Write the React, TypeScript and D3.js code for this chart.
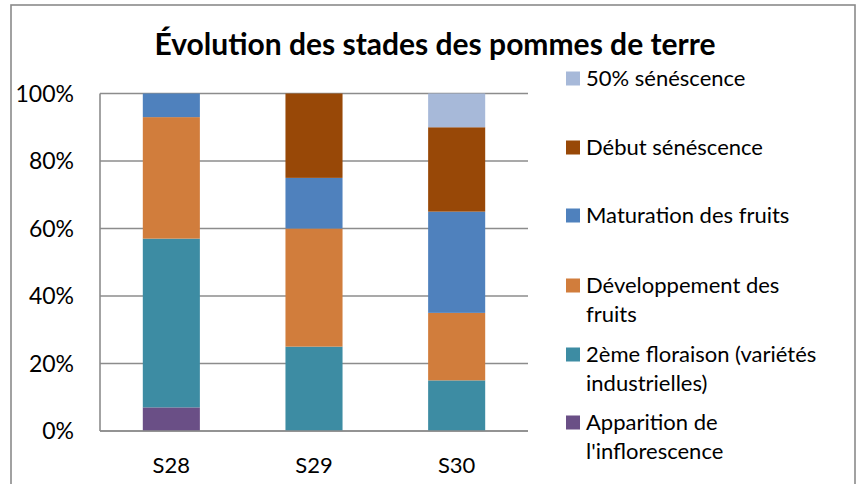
import React, { useRef, useEffect } from 'react';
import * as d3 from 'd3';

// stages of the potato crop, % of plots per week
const categories = ['S28', 'S29', 'S30'];
const apparition = [7, 0, 0];
const floraison = [50, 25, 15];
const developpement = [36, 35, 20];
const maturation = [7, 15, 30];
const debutSenescence = [0, 25, 25];
const senescence50 = [0, 0, 10];

const seriesNames = [
    ["Apparition de", "l'inflorescence"],
    ['2ème floraison (variétés', 'industrielles)'],
    ['Développement des', 'fruits'],
    ['Maturation des fruits'],
    ['Début sénéscence'],
    ['50% sénéscence'],
];
const seriesColors = ['#6a4f86', '#3d8ca3', '#d17d3c', '#4f81bd', '#984807', '#a7b9d9'];
const yTicks = [0, 20, 40, 60, 80, 100];

const W = 859, H = 484;
const FONT = 'Lato, Calibri, sans-serif';

const App = () => {
    const ref = useRef(null);

    var margin = { left: 100, top: 93.5, right: 528, bottom: 431 };

    useEffect(() => {
        var svg = d3.select(ref.current);
        svg.selectAll('*').remove();

        var series = [apparition, floraison, developpement, maturation, debutSenescence, senescence50];
        var table = categories.map((c, i) => {
            var row: any = { cat: c };
            series.forEach((s, k) => { row['s' + k] = s[i]; });
            return row;
        });
        var stack = d3.stack().keys(series.map((s, k) => 's' + k));
        var stacked = stack(table);

        var x = d3.scaleBand()
            .domain(categories)
            .range([margin.left, margin.right])
            .paddingInner(0.6)
            .paddingOuter(0.3);
        var y = d3.scaleLinear()
            .domain([0, 100])
            .range([margin.bottom, margin.top]);

        // chart frame
        svg.append('rect')
            .attr('x', 11).attr('y', 5)
            .attr('width', 844).attr('height', 490)
            .attr('fill', 'white')
            .attr('stroke', '#8a8a8a')
            .attr('stroke-width', 1.6);

        svg.append('text')
            .attr('x', 435).attr('y', 55)
            .attr('text-anchor', 'middle')
            .style('font-family', FONT)
            .style('font-weight', 'bold')
            .style('font-size', '30px')
            .text('Évolution des stades des pommes de terre');

        // gridlines
        svg.append('g')
            .selectAll('line')
            .data(yTicks)
            .enter()
            .append('line')
            .attr('x1', margin.left).attr('x2', margin.right)
            .attr('y1', d => y(d)).attr('y2', d => y(d))
            .attr('stroke', '#8c8c8c')
            .attr('stroke-width', 1.6);

        svg.append('g')
            .selectAll('g')
            .data(stacked)
            .enter()
            .append('g')
            .attr('fill', (d, k) => seriesColors[k])
            .selectAll('rect')
            .data(d => d)
            .enter()
            .append('rect')
            .attr('x', (d: any) => x(d.data.cat))
            .attr('width', x.bandwidth())
            .attr('y', d => y(d[1]))
            .attr('height', d => y(d[0]) - y(d[1]));

        // axis lines
        svg.append('line')
            .attr('x1', margin.left).attr('x2', margin.left)
            .attr('y1', margin.top).attr('y2', margin.bottom)
            .attr('stroke', '#8c8c8c').attr('stroke-width', 1.6);
        svg.append('line')
            .attr('x1', margin.left).attr('x2', margin.right)
            .attr('y1', margin.bottom).attr('y2', margin.bottom)
            .attr('stroke', '#8c8c8c').attr('stroke-width', 1.6);

        svg.append('g')
            .selectAll('text')
            .data(yTicks)
            .enter()
            .append('text')
            .attr('x', 74)
            .attr('y', d => y(d) + 8)
            .attr('text-anchor', 'end')
            .style('font-family', FONT)
            .style('font-size', '23px')
            .text(d => d + '%');

        svg.append('g')
            .selectAll('text')
            .data(categories)
            .enter()
            .append('text')
            .attr('x', d => x(d) + x.bandwidth() / 2)
            .attr('y', 473)
            .attr('text-anchor', 'middle')
            .style('font-family', FONT)
            .style('font-size', '22px')
            .text(d => d);

        // legend, top entry = last series
        var legendY = [78, 147, 215, 285, 354, 422];
        var legend = svg.append('g')
            .selectAll('g')
            .data(seriesNames.map((n, k) => ({ lines: n, color: seriesColors[k], k })).reverse())
            .enter()
            .append('g')
            .attr('transform', (d, i) => 'translate(566,' + legendY[i] + ')');
        legend.append('rect')
            .attr('x', 0).attr('y', -6.5)
            .attr('width', 14).attr('height', 14)
            .attr('fill', d => d.color);
        legend.each(function (d) {
            var g = d3.select(this);
            d.lines.forEach((line, j) => {
                g.append('text')
                    .attr('x', 20)
                    .attr('y', 8 + j * 29)
                    .style('font-family', FONT)
                    .style('font-size', '22px')
                    .text(line);
            });
        });
    }, []);

    return (
        <svg ref={ref} width={W} height={H} viewBox={'0 0 ' + W + ' ' + H}
            style={{ position: 'absolute', left: 0, top: 0 }}></svg>
    );
};

export default App;
